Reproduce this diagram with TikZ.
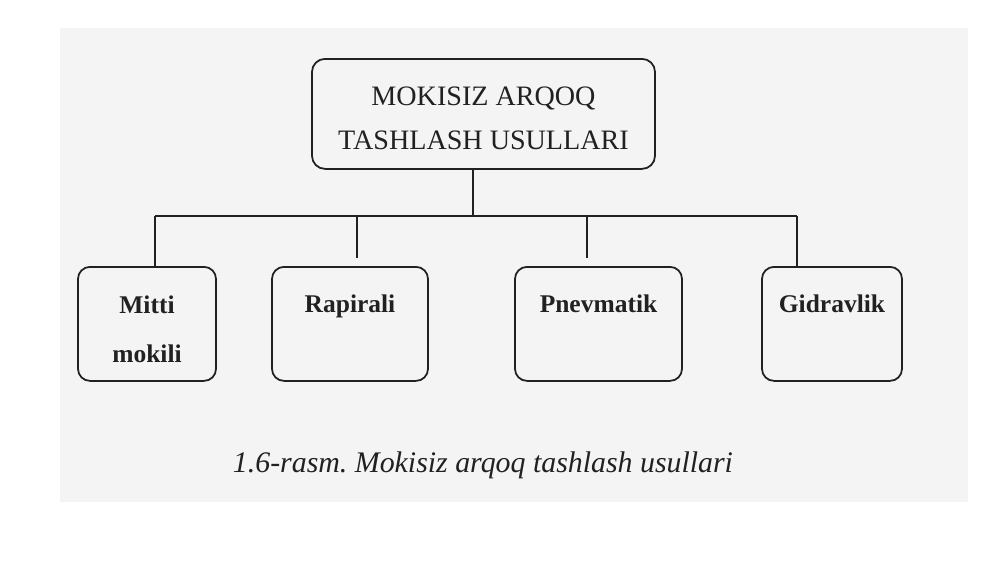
\documentclass[tikz,border=0pt]{standalone}
\usepackage{fontspec}
\setmainfont{Liberation Serif}
\definecolor{pagegray}{gray}{0.955}
\definecolor{ink}{gray}{0.13}
\frenchspacing
\begin{document}
\begin{tikzpicture}[x=0.2mm,y=-0.2mm,
  topbox/.style={draw=ink, line width=1pt, rounded corners=2.6mm, minimum width=68.6mm, anchor=north, align=center, inner sep=0pt, text height=9.2mm, text depth=3.8mm, font=\fontsize{16}{25.5}\selectfont, text=ink},
  kind/.style={draw=ink, line width=1pt, rounded corners=2.4mm, anchor=north, inner sep=0pt, align=center, text height=9.2mm, text depth=13.6mm, font=\bfseries\fontsize{14.5}{27.9}\selectfont, text=ink},
  link/.style={draw=ink, line width=1pt}]
\useasboundingbox (0,0) rectangle (1000,562);
\fill[pagegray] (60,28) rectangle (968,502);

\node[topbox, text height=18.2mm] (top) at (483.5,58) {MOKISIZ ARQOQ\\TASHLASH USULLARI};

\node[kind, minimum width=27.6mm, text height=19.2mm, text depth=3.6mm] (mitti) at (147,266) {Mitti\\mokili};
\node[kind, minimum width=31.2mm] (rapira) at (350,266) {Rapirali};
\node[kind, minimum width=33.4mm] (pnevm) at (598.5,266) {Pnevmatik};
\node[kind, minimum width=28mm] (gidra) at (832,266) {Gidravlik};

\coordinate (hub) at (473,216);
\coordinate (d1) at (155,216);
\coordinate (d2) at (357,216);
\coordinate (d3) at (587,216);
\coordinate (d4) at (797,216);

\path[link] (top.south -| hub) -- (hub);
\path[link] (d1) -- (d4);
\path[link] (d1) -- (d1 |- mitti.north);
\path[link, shorten >=1.6mm] (d2) -- (d2 |- rapira.north);
\path[link, shorten >=1.6mm] (d3) -- (d3 |- pnevm.north);
\path[link] (d4) -- (d4 |- gidra.north);

\node[font=\itshape\fontsize{17}{20}\selectfont, text=ink, anchor=base] (caption) at (483,472) {1.6-rasm. Mokisiz arqoq tashlash usullari};
\end{tikzpicture}
\end{document}
